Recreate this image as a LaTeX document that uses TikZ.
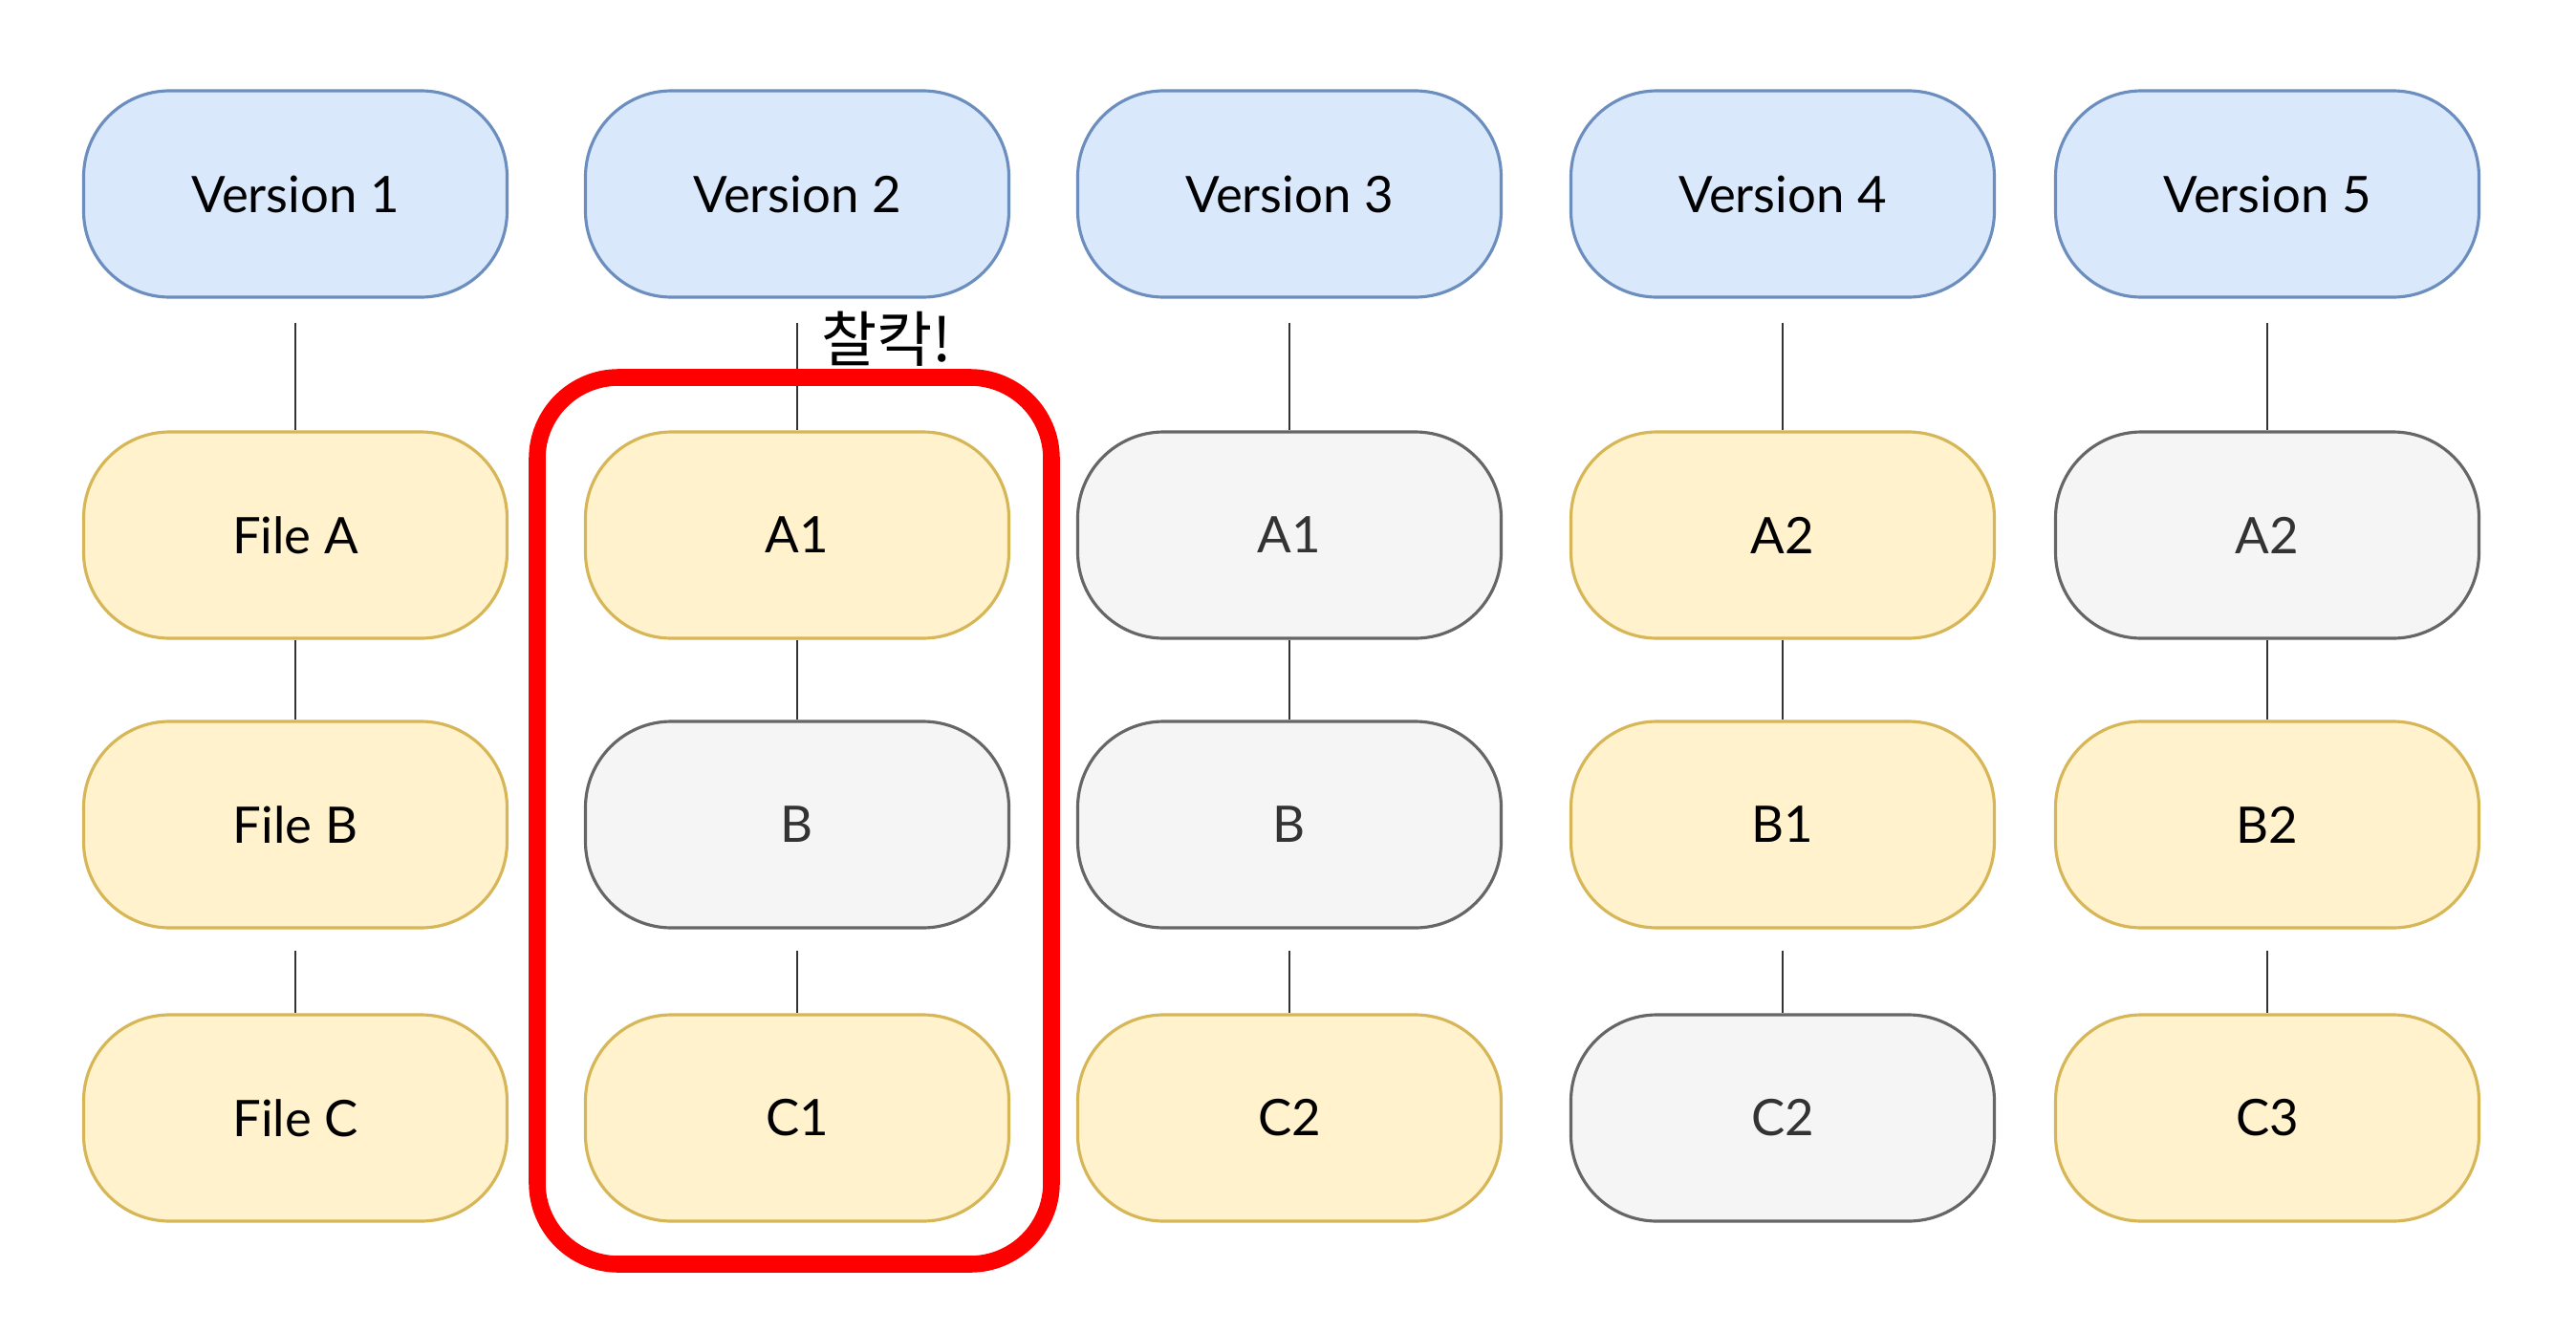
\documentclass[tikz,border=0pt]{standalone}
\usepackage{fontspec}
\setmainfont{Lato}
\newfontfamily\kofont{Noto Sans CJK KR}

\definecolor{verfill}{HTML}{DAE8FC}
\definecolor{verline}{HTML}{6C8EBF}
\definecolor{chgfill}{HTML}{FFF2CC}
\definecolor{chgline}{HTML}{D6B656}
\definecolor{samefill}{HTML}{F5F5F5}
\definecolor{sameline}{HTML}{666666}
\definecolor{sametext}{HTML}{333333}
\definecolor{linkgray}{HTML}{333333}
\definecolor{snapred}{HTML}{FF0000}

\tikzset{
  box/.style={rounded corners=0.9cm, minimum width=4.43cm, minimum height=2.16cm,
    line width=0.9pt, font=\fontsize{15}{18}\selectfont},
  ver/.style={box, draw=verline, fill=verfill},
  chg/.style={box, draw=chgline, fill=chgfill},
  same/.style={box, draw=sameline, fill=samefill, text=sametext},
  link/.style={draw=linkgray, line width=0.8pt},
}

\begin{document}
\begin{tikzpicture}
  \useasboundingbox (0,0) rectangle (26.95,-13.94);
  % versions
  \node[ver] (v1) at (3.09,-2.03) {Version 1};
  \node[ver] (v2) at (8.34,-2.03) {Version 2};
  \node[ver] (v3) at (13.49,-2.03) {Version 3};
  \node[ver] (v4) at (18.65,-2.03) {Version 4};
  \node[ver] (v5) at (23.72,-2.03) {Version 5};
  % files
  \node[chg] (a1) at (3.09,-5.60) {File A};
  \node[chg] (b1) at (3.09,-8.63) {File B};
  \node[chg] (c1) at (3.09,-11.70) {File C};
  \node[chg] (a2) at (8.34,-5.60) {A1};
  \node[same] (b2) at (8.34,-8.63) {B};
  \node[chg] (c2) at (8.34,-11.70) {C1};
  \node[same] (a3) at (13.49,-5.60) {A1};
  \node[same] (b3) at (13.49,-8.63) {B};
  \node[chg] (c3) at (13.49,-11.70) {C2};
  \node[chg] (a4) at (18.65,-5.60) {A2};
  \node[chg] (b4) at (18.65,-8.63) {B1};
  \node[same] (c4) at (18.65,-11.70) {C2};
  \node[same] (a5) at (23.72,-5.60) {A2};
  \node[chg] (b5) at (23.72,-8.63) {B2};
  \node[chg] (c5) at (23.72,-11.70) {C3};
  % links
  \foreach \i in {1,...,5} {
    \draw[link, shorten <=0.25cm] (v\i) -- (a\i);
    \draw[link] (a\i) -- (b\i);
    \draw[link, shorten <=0.22cm] (b\i) -- (c\i);
  }
  % snapshot
  \draw[snapred, line width=5pt, rounded corners=0.85cm] (5.62,-3.95) rectangle (11.00,-13.23);
  \node[font=\kofont\fontsize{18}{20}\selectfont] (snap) at (9.28,-3.55) {찰칵!};
\end{tikzpicture}
\end{document}
